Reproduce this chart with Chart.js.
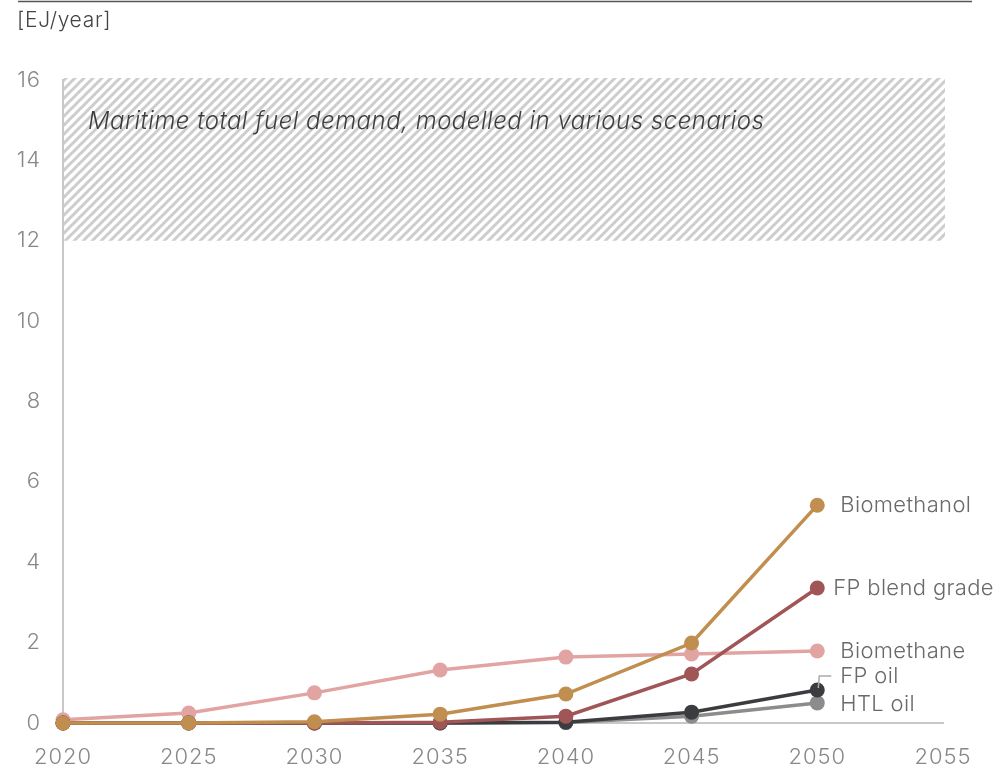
<!DOCTYPE html>
<html>
<head>
<meta charset="utf-8">
<script src="https://cdn.jsdelivr.net/npm/chart.js@4"></script>
<style>
  html, body { margin: 0; padding: 0; background: #fff; }
  #wrap { width: 997px; height: 767px; position: relative; }
</style>
</head>
<body>
<div id="wrap"><canvas id="c" width="997" height="767"></canvas></div>
<script>
// ---- data ----
const years = [2020, 2025, 2030, 2035, 2040, 2045, 2050];
const biomethanol = [0.0, 0.0, 0.03, 0.22, 0.72, 1.99, 5.42];
const fpBlendGrade = [0.0, 0.0, 0.0, 0.02, 0.17, 1.22, 3.36];
const biomethane = [0.08, 0.25, 0.75, 1.32, 1.64, 1.72, 1.79];
const fpOil = [0.0, 0.0, 0.0, 0.0, 0.02, 0.27, 0.82];
const htlOil = [0.0, 0.0, 0.0, 0.0, 0.01, 0.17, 0.50];
const seriesNames = ['Biomethanol', 'FP blend grade', 'Biomethane', 'FP oil', 'HTL oil'];
const xTicks = [2020, 2025, 2030, 2035, 2040, 2045, 2050, 2055];
const yTicks = [0, 2, 4, 6, 8, 10, 12, 14, 16];
const demandRange = [12, 16];          // hatched band (EJ/year)
const demandYears = [2020, 2055];
const demandText = 'Maritime total fuel demand, modelled in various scenarios';
const unitText = '[EJ/year]';

// ---- styles ----
const FONT = 'Inter, "Liberation Sans", sans-serif';
const colors = ['#C08E4F', '#A05556', '#E2A3A3', '#3B3C40', '#8C8C8C'];
const orders = [0, 1, 4, 2, 3];
const labelOffsets = [[23, 0], [16, 0], [23, 0], [23, -14], [23, 1]];

const seriesValues = [biomethanol, fpBlendGrade, biomethane, fpOil, htlOil];

function makeHatch() {
  const s = 9;
  const p = document.createElement('canvas');
  p.width = s; p.height = s;
  const g = p.getContext('2d');
  g.strokeStyle = '#cdcdcd';
  g.lineWidth = 3;
  g.beginPath();
  g.moveTo(-1, s + 1); g.lineTo(s + 1, -1);
  g.moveTo(-s / 2 - 1, s / 2 + 1); g.lineTo(s / 2 + 1, -s / 2 - 1);
  g.moveTo(s / 2 - 1, s * 1.5 + 1); g.lineTo(s * 1.5 + 1, s / 2 - 1);
  g.stroke();
  return p;
}

const decoPlugin = {
  id: 'deco',
  beforeDraw(chart) {
    chart.ctx.letterSpacing = '0.9px';
  },
  beforeDatasetsDraw(chart) {
    const ctx = chart.ctx;
    const xs = chart.scales.x, ys = chart.scales.y;
    const x0 = xs.getPixelForValue(demandYears[0]);
    const x1 = xs.getPixelForValue(demandYears[1]);
    const y0 = ys.getPixelForValue(demandRange[1]);
    const y1 = ys.getPixelForValue(demandRange[0]);
    ctx.save();
    ctx.fillStyle = ctx.createPattern(makeHatch(), 'repeat');
    ctx.fillRect(x0 + 1, y0 - 2, x1 - x0 + 1, y1 - y0 + 2);
    ctx.fillStyle = '#3d3d3d';
    ctx.letterSpacing = '0.5px';
    ctx.font = 'italic 300 24px ' + FONT;
    ctx.textBaseline = 'middle';
    ctx.textAlign = 'left';
    ctx.fillText(demandText, x0 + 25, ys.getPixelForValue(14.95));
    ctx.restore();

    // top rule and unit
    ctx.save();
    ctx.strokeStyle = '#555';
    ctx.lineWidth = 1.5;
    ctx.beginPath();
    ctx.moveTo(18, 1.5); ctx.lineTo(972, 1.5);
    ctx.stroke();
    ctx.fillStyle = '#444';
    ctx.letterSpacing = '0.7px';
    ctx.font = '300 21px ' + FONT;
    ctx.textBaseline = 'middle';
    ctx.fillText(unitText, 17, 21);
    ctx.restore();
  },
  afterDatasetsDraw(chart) {
    const ctx = chart.ctx;
    ctx.save();
    ctx.letterSpacing = '0.35px';
    ctx.font = '300 22px ' + FONT;
    ctx.fillStyle = '#6a6a6a';
    ctx.textBaseline = 'middle';
    ctx.textAlign = 'left';
    chart.data.datasets.forEach((ds, i) => {
      const meta = chart.getDatasetMeta(i);
      const pt = meta.data[meta.data.length - 1];
      const off = labelOffsets[i];
      ctx.fillText(seriesNames[i], pt.x + off[0], pt.y + off[1]);
      if (seriesNames[i] === 'FP oil') {
        ctx.save();
        ctx.strokeStyle = '#aaa';
        ctx.lineWidth = 1.5;
        ctx.beginPath();
        ctx.moveTo(pt.x + 1, pt.y - 2);
        ctx.lineTo(pt.x + 2, pt.y + off[1]);
        ctx.lineTo(pt.x + 14, pt.y + off[1]);
        ctx.stroke();
        ctx.restore();
      }
    });
    ctx.restore();
  }
};

new Chart(document.getElementById('c'), {
  type: 'line',
  data: {
    datasets: seriesNames.map((name, i) => ({
      label: name,
      data: years.map((y, k) => ({ x: y, y: seriesValues[i][k] })),
      borderColor: colors[i],
      backgroundColor: colors[i],
      pointBackgroundColor: colors[i],
      pointBorderWidth: 0,
      pointRadius: 7.5,
      borderWidth: 3.5,
      tension: 0,
      clip: false,
      order: orders[i]
    }))
  },
  options: {
    responsive: false,
    animation: false,
    layout: { padding: { top: 80, right: 54, left: 0, bottom: 0 } },
    plugins: { legend: { display: false }, tooltip: { enabled: false } },
    scales: {
      x: {
        type: 'linear', min: 2020, max: 2055,
        afterBuildTicks: (s) => { s.ticks = xTicks.map(v => ({ value: v })); },
        grid: { display: false, drawTicks: false },
        border: { color: '#c8c8c8', width: 2 },
        ticks: { color: '#888', font: { family: FONT, size: 22, weight: 300 }, padding: 21, callback: v => String(v), maxRotation: 0, autoSkip: false },
        afterFit: (s) => { s.height = 44; }
      },
      y: {
        min: 0, max: 16,
        afterBuildTicks: (s) => { s.ticks = yTicks.map(v => ({ value: v })); },
        grid: { display: false, drawTicks: false },
        border: { color: '#c8c8c8', width: 2 },
        ticks: { color: '#888', font: { family: FONT, size: 22, weight: 300 }, padding: 22 },
        afterFit: (s) => { s.width = 63; }
      }
    }
  },
  plugins: [decoPlugin]
});
</script>
</body>
</html>
